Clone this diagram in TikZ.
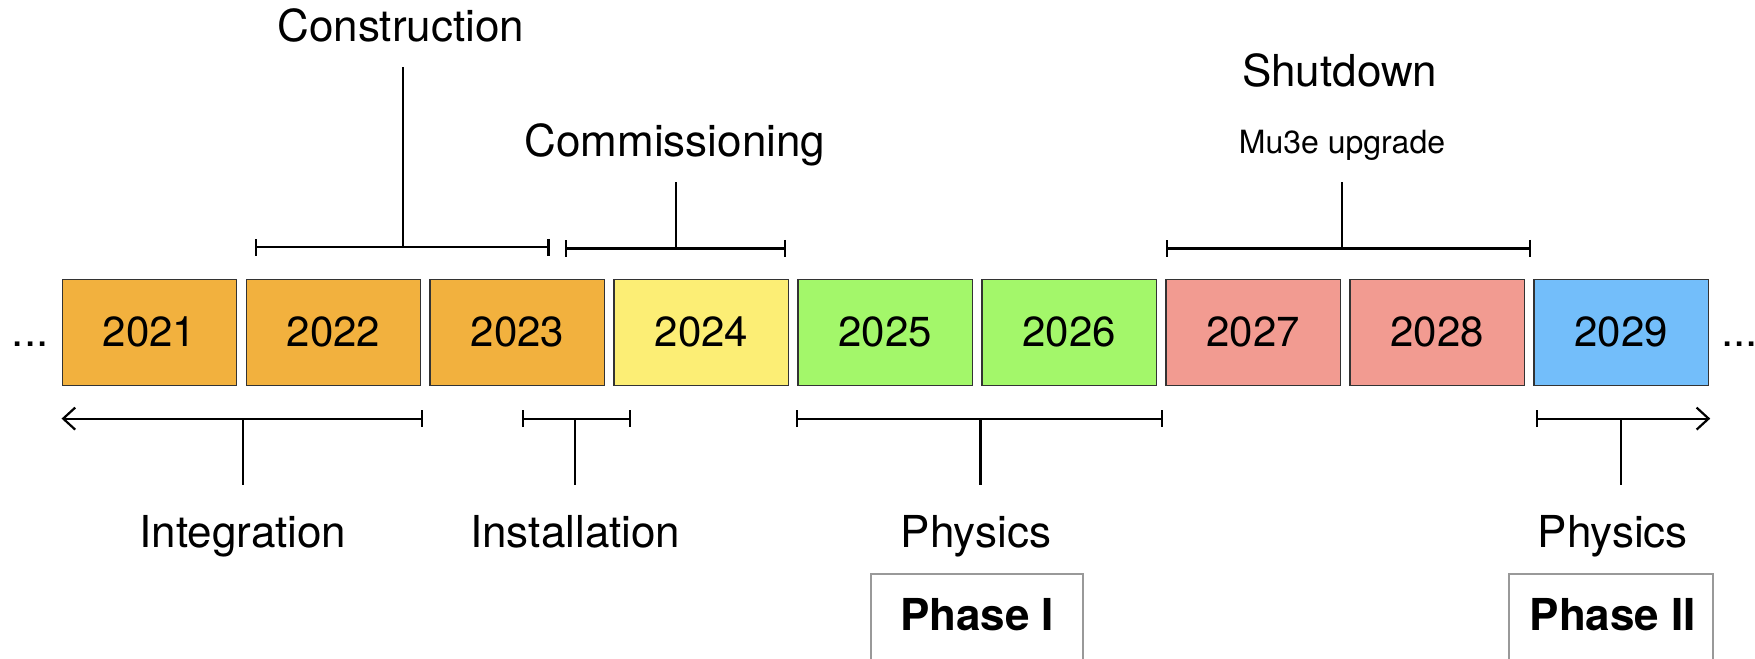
\documentclass[tikz,border=0pt]{standalone}
\usepackage{fontspec}
\setmainfont{TeX Gyre Heros}
\usetikzlibrary{positioning,arrows.meta}

\definecolor{buildorange}{RGB}{242,177,62}
\definecolor{commyellow}{RGB}{252,238,117}
\definecolor{physgreen}{RGB}{163,247,106}
\definecolor{shutred}{RGB}{242,155,145}
\definecolor{upgblue}{RGB}{115,190,250}

\begin{document}
\begin{tikzpicture}[x=0.5597pt,y=-0.5597pt]
        \tikzstyle{every node}+=[inner sep=0pt]
        \tikzstyle{yearbox}=[draw=black!80,line width=0.7pt,minimum width=87.2pt,minimum height=53pt,font=\fontsize{21}{25}\selectfont]
        \tikzstyle{stagetext}=[anchor=base,font=\fontsize{22}{26}\selectfont]
        \tikzstyle{smalltext}=[anchor=base,font=\fontsize{16}{19}\selectfont]
        \tikzstyle{bracket}=[line width=1.1pt,{Bar[width=8.5pt,line width=1.1pt]}-{Bar[width=8.5pt,line width=1.1pt]}]
        \tikzstyle{stem}=[line width=1.1pt]
        \tikzstyle{phasebox}=[draw=black!40,line width=1pt,minimum height=50pt]
        \tikzstyle{phasetext}=[anchor=base,font=\bfseries\fontsize{22}{26}\selectfont]
        \useasboundingbox (0,0) rectangle (1568,588);
        \clip (0,0) rectangle (1568,588);
        % years
        \node [yearbox,fill=buildorange] (y21) at (133.5,297) {2021};
        \node [yearbox,fill=buildorange,right=4.1pt of y21] (y22) {2022};
        \node [yearbox,fill=buildorange,right=4.1pt of y22] (y23) {2023};
        \node [yearbox,fill=commyellow,right=4.1pt of y23] (y24) {2024};
        \node [yearbox,fill=physgreen,right=4.1pt of y24] (y25) {2025};
        \node [yearbox,fill=physgreen,right=4.1pt of y25] (y26) {2026};
        \node [yearbox,fill=shutred,right=4.1pt of y26] (y27) {2027};
        \node [yearbox,fill=shutred,right=4.1pt of y27] (y28) {2028};
        \node [yearbox,fill=upgblue,right=4.1pt of y28] (y29) {2029};
        \node [stagetext] (dotsL) at (27,310) {...};
        \node [stagetext] (dotsR) at (1554,310) {...};
        % stages above
        \node [stagetext] (constr) at (358,37) {Construction};
        \coordinate (constrL) at (228,221);
        \coordinate (constrR) at (491,221);
        \coordinate (constrM) at (360,221);
        \coordinate (constrT) at (360,60);
        \draw [bracket] (constrL) -- (constrR);
        \draw [stem] (constrM) -- (constrT);
        \node [stagetext] (commis) at (603,140) {Commissioning};
        \coordinate (commisL) at (505,222);
        \coordinate (commisR) at (702,222);
        \coordinate (commisM) at (604,222);
        \coordinate (commisT) at (604,163);
        \draw [bracket] (commisL) -- (commisR);
        \draw [stem] (commisM) -- (commisT);
        \node [stagetext] (shut) at (1197,77) {Shutdown};
        \node [smalltext] (upgr) at (1199,137) {Mu3e upgrade};
        \coordinate (shutL) at (1042,222);
        \coordinate (shutR) at (1368,222);
        \coordinate (shutM) at (1199,222);
        \coordinate (shutT) at (1199,163);
        \draw [bracket] (shutL) -- (shutR);
        \draw [stem] (shutM) -- (shutT);
        % stages below
        \node [stagetext] (integ) at (217,489) {Integration};
        \coordinate (integL) at (55,374);
        \coordinate (integR) at (378,374);
        \coordinate (integM) at (217,374);
        \coordinate (integB) at (217,433);
        \draw [line width=1.1pt,{Straight Barb[length=6pt,width=11pt,line width=1.1pt]}-{Bar[width=8.5pt,line width=1.1pt]}] (integL) -- (integR);
        \draw [stem] (integM) -- (integB);
        \node [stagetext] (instal) at (514,489) {Installation};
        \coordinate (instalL) at (466,374);
        \coordinate (instalR) at (564,374);
        \coordinate (instalM) at (514,374);
        \coordinate (instalB) at (514,433);
        \draw [bracket] (instalL) -- (instalR);
        \draw [stem] (instalM) -- (instalB);
        \node [stagetext] (physA) at (872,489) {Physics};
        \coordinate (physAL) at (711,374);
        \coordinate (physAR) at (1039,374);
        \coordinate (physAM) at (876,374);
        \coordinate (physAB) at (876,433);
        \draw [bracket] (physAL) -- (physAR);
        \draw [stem] (physAM) -- (physAB);
        \node [stagetext] (physB) at (1441,489) {Physics};
        \coordinate (physBL) at (1372,374);
        \coordinate (physBR) at (1528,374);
        \coordinate (physBM) at (1448,374);
        \coordinate (physBB) at (1448,433);
        \draw [line width=1.1pt,{Bar[width=8.5pt,line width=1.1pt]}-{Straight Barb[length=6pt,width=11pt,line width=1.1pt]}] (physBL) -- (physBR);
        \draw [stem] (physBM) -- (physBB);
        % phases
        \node [phasebox,minimum width=106.3pt,anchor=north] (phaseA) at (873,512) {};
        \node [phasetext] (phaseAtxt) at (873,563) {Phase I};
        \node [phasebox,minimum width=101.9pt,anchor=north] (phaseB) at (1439,512) {};
        \node [phasetext] (phaseBtxt) at (1441,563) {Phase II};
\end{tikzpicture}
\end{document}
